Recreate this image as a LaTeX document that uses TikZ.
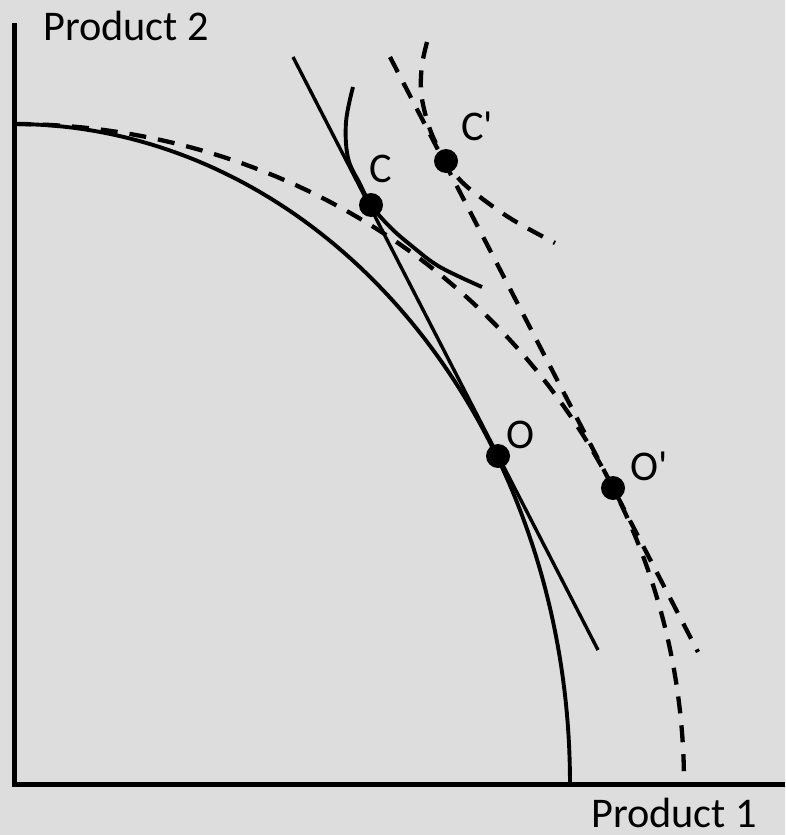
\documentclass[tikz,border=0pt]{standalone}
\usepackage{fontspec}
\setmainfont{Carlito}[Ligatures=TeXOff]
\definecolor{bgc}{HTML}{DDDDDD}
\begin{document}
\begin{tikzpicture}[x=1pt,y=-1pt,
  axisline/.style={line width=5pt},
  curve/.style={line width=3.9pt},
  thinline/.style={line width=3.4pt},
  dashcurve/.style={line width=4.3pt, dash pattern=on 17pt off 12pt},
  dot/.style={circle,fill=black,inner sep=0pt,minimum size=24pt},
  lab/.style={font=\fontsize{42.3}{50}\selectfont, inner sep=0pt, anchor=base west}]
\fill[bgc] (0,0) rectangle (785,835);
\useasboundingbox (0,0) rectangle (785,835);
% axes
\coordinate (ytop) at (14.5,23);
\coordinate (orig) at (14.5,784.5);
\coordinate (xend) at (785,784.5);
\draw[axisline] (ytop) -- (14.5,787) ;
\draw[axisline] (12,784.5) -- (xend);
% PPF solid
\draw[curve] plot[domain=90:0,samples=90] ({14+556*cos(\x)},{783-659*sin(\x)});
% PPF dashed
\draw[dashcurve] plot[domain=90:1,samples=90] ({14+670*cos(\x)},{783-659*sin(\x)});
% price line solid
\coordinate (t1) at (293,57);
\coordinate (t2) at (598,650);
\draw[thinline] (t1) -- (t2);
% price line dashed
\coordinate (d1) at (390,57);
\coordinate (d2) at (698,652);
\draw[dashcurve] (d1) -- (d2);
% indifference curves
\draw[curve] plot[smooth,tension=0.6] coordinates {(353,87) (346,122) (348,158) (360,184) (371,205) (390,227) (413,247) (440,267) (482,287)};
\draw[dashcurve] plot[smooth,tension=0.6] coordinates {(427,42) (422,65) (421,90) (425,113) (433,137) (446,161) (460,180) (480,197) (513,220) (555,243)};
% points
\node[dot] (C) at (371,205) {};
\node[dot] (Cp) at (446,161) {};
\node[dot] (O) at (498,456) {};
\node[dot] (Op) at (613,488) {};
% labels
\node[lab] (lC) at (369,182) {C};
\node[lab] (lCp) at (461,140) {C'};
\node[lab] (lO) at (506,448) {O};
\node[lab] (lOp) at (630,480) {O'};
\node[lab] (lP2) at (43,40) {Product 2};
\node[lab] (lP1) at (591,827) {Product 1};
\end{tikzpicture}
\end{document}
